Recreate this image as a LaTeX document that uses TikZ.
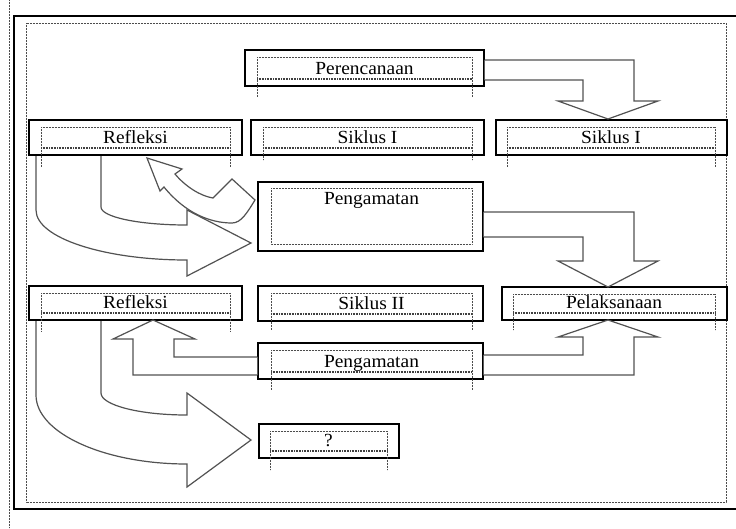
\documentclass[tikz,border=0pt]{standalone}
\usepackage{fontspec}
\setmainfont{Liberation Serif}[FakeStretch=1.05]
\usetikzlibrary{fit}
\tikzset{
  wbox/.style={draw=black, line width=1.2pt, inner sep=0pt},
  dotf/.style={draw=black!70, line width=0.6pt, dash pattern=on 0.6pt off 0.9pt},
  dotheavy/.style={draw=black!75, line width=1.4pt, dash pattern=on 0.8pt off 0.8pt},
  blk/.style={draw=black!68, line width=1.2pt, line join=miter, fill=white},
  lbl/.style={font=\fontsize{18.5}{20}\selectfont, inner sep=0pt, text=black},
}
% name, x1, y1, x2, y2, ix1, ix2, vy, text
\newcommand\wordbox[9]{%
  \node[wbox, fit={(#2,#3) (#4,#5)}] (#1) {};
  \draw[dotf] (#6,{#3+7}) -- (#7,{#3+7});
  \draw[dotf] (#6,{#3+7}) -- (#6,#8);
  \draw[dotf] (#7,{#3+7}) -- (#7,#8);
  \draw[dotheavy] (#6,{#5-7}) -- (#7,{#5-7});
  \node[lbl, anchor=base] (#1-t) at ({(#6+#7)/2},{#5-12}) {#9};
}
\begin{document}
\begin{tikzpicture}[x=1pt, y=-1pt]
\useasboundingbox (0,0) rectangle (736,528);
% page frames
\draw[dotf] (9,0) -- (9,528);
\draw[line width=1.2pt] (745,16) -- (14,16) -- (14,509) -- (745,509);
\draw[dotf] (26,23) rectangle (726,502);

% curved block arrows (drawn first, under the boxes)
\coordinate (rfa) at (36,155);
\coordinate (rfb) at (36,320);
% Refleksi (1) -> Pengamatan (1), curved
\draw[blk] (rfa) -- (36,210) .. controls (36,238) and (104,260) .. (187,260)
  -- (187,276) -- (251,243) -- (187,210) -- (187,225)
  .. controls (139,225) and (101,217) .. (101,207) -- (101,155);
% Pengamatan (1) -> Refleksi (1), small curved
\draw[blk] (147,158) -- (160,191) -- (164,187)
  .. controls (185,213) and (210,223) .. (232,223)
  .. controls (241,223) and (247,213) .. (255,200)
  -- (232,179) -- (213,198)
  .. controls (200,196) and (185,186) .. (175,174) -- (182,169) -- cycle;
% Refleksi (2) -> ?, curved
\draw[blk] (rfb) -- (36,395) .. controls (36,433) and (104,464) .. (187,464)
  -- (187,487) -- (251,440) -- (187,393) -- (187,415)
  .. controls (139,415) and (101,405) .. (101,393) -- (101,320);

% boxes
\wordbox{per}{245}{50}{484}{86}{257}{472}{97}{Perencanaan}
\wordbox{refa}{29}{120}{242}{155}{41}{230}{167}{Refleksi}
\wordbox{sika}{251}{120}{484}{155}{263}{472}{160}{Siklus I}
\wordbox{sikb}{496}{120}{727}{155}{507}{715}{167}{Siklus I}
\node[wbox, fit={(258,182) (483,251)}] (penga) {};
\draw[dotf] (271,188) rectangle (472,244);
\node[lbl, anchor=base] (penga-t) at (371.5,204) {Pengamatan};
\wordbox{refb}{29}{286}{242}{320}{41}{230}{331}{Refleksi}
\wordbox{sikc}{258}{286}{483}{321}{271}{472}{330}{Siklus II}
\wordbox{pel}{502}{287}{727}{320}{513}{715}{330}{Pelaksanaan}
\wordbox{pengb}{258}{343}{483}{379}{271}{472}{390}{Pengamatan}
\wordbox{q}{259}{424}{399}{458}{270}{387}{470}{?}

% Perencanaan -> Siklus I (right)
\draw[blk] (per.east |- 0,60) -- (634,60) -- (634,101) -- (658,101) -- (608,119)
  -- (558,101) -- (583,101) -- (583,80) -- (per.east |- 0,80);
% Pengamatan (1) -> Pelaksanaan
\draw[blk] (penga.east |- 0,212) -- (634,212) -- (634,261) -- (658,261) -- (608,287)
  -- (558,261) -- (583,261) -- (583,237) -- (penga.east |- 0,237);
% Pengamatan (2) -> Pelaksanaan (upward)
\draw[blk] (pengb.east |- 0,355) -- (583,355) -- (583,337) -- (558,337) -- (608,320)
  -- (658,337) -- (634,337) -- (634,375) -- (pengb.east |- 0,375);
% Pengamatan (2) -> Refleksi (2) (upward)
\draw[blk] (pengb.west |- 0,357) -- (174,357) -- (174,339) -- (195,339) -- (153,320)
  -- (113,339) -- (133,339) -- (133,375) -- (pengb.west |- 0,375);
\end{tikzpicture}
\end{document}
